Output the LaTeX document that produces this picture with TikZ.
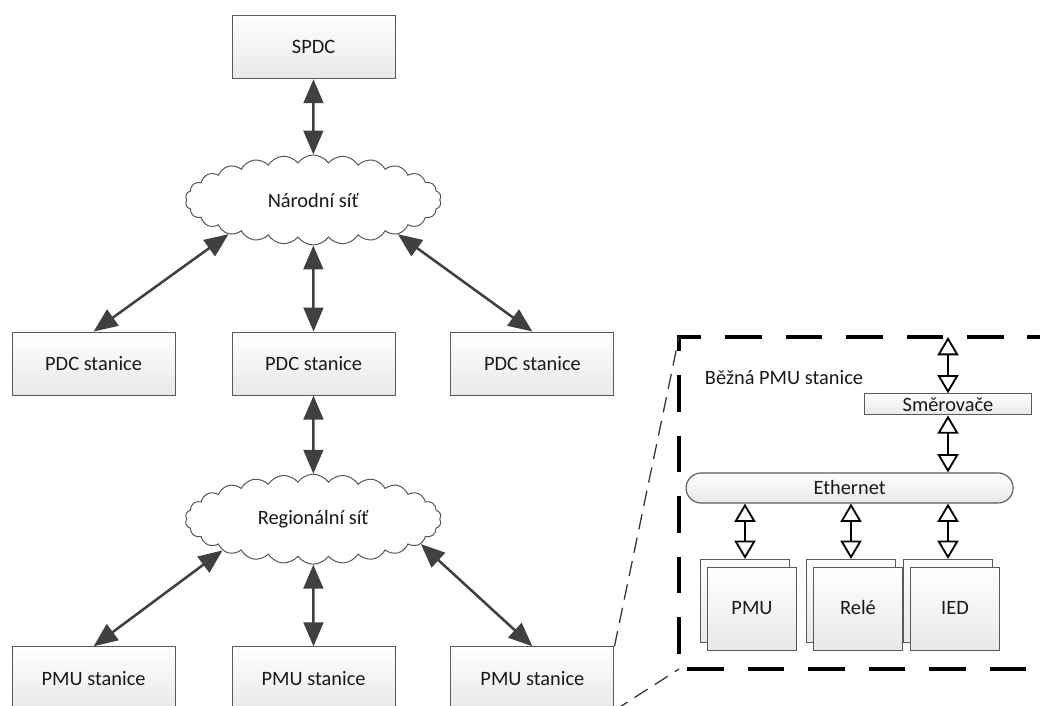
\documentclass[tikz,border=0pt]{standalone}
\usepackage{fontspec}
\setmainfont{Carlito}
\usetikzlibrary{arrows.meta, shapes.symbols, calc}

\tikzset{
    stanice/.style={draw=gray!70!black, line width=0.8pt, top color=white, bottom color=gray!18,
        minimum width=4.075cm, minimum height=1.575cm, text=black!90},
    sit/.style={cloud, cloud puffs=26, cloud puff arc=110, cloud ignores aspect,
        draw=gray!65!black, line width=0.7pt, fill=white,
        minimum width=6.4cm, minimum height=2.25cm, text=black!90},
    zarizeni/.style={draw=gray!70!black, line width=0.8pt, top color=white, bottom color=gray!18,
        minimum width=2.225cm, minimum height=2.075cm, text height=10pt, text depth=2pt, text=black!90},
    spoj/.style={draw=black!75, line width=1.8pt, >={Triangle[length=17pt,width=14pt]}, <->},
    otevrena/.style={draw=black, line width=1.3pt, >={Triangle[open,length=13pt,width=15pt]}, <->},
    priblizeni/.style={draw=black!80, line width=0.9pt, dash pattern=on 11pt off 6pt},
    ramec/.style={draw=black, line width=2.2pt, dash pattern=on 26pt off 17pt}
}

\begin{document}
\begin{tikzpicture}[font=\fontsize{14.5pt}{17pt}\selectfont]
    \clip (0,0) rectangle (26,-17.65);

    % hierarchie PDC
    \node[stanice] (spdc) at (7.84,-1.18) {SPDC};
    \node[sit] (narodni) at (7.83,-5.0) {Národní síť};

    \node[stanice] (pdcl) at (2.34,-9.09) {PDC stanice};
    \node[stanice] (pdcs) at (7.84,-9.09) {PDC stanice};
    \node[stanice] (pdcp) at (13.31,-9.09) {PDC stanice};

    \node[sit] (regionalni) at (7.83,-12.98) {Regionální síť};

    \node[stanice] (pmul) at (2.34,-16.96) {PMU stanice};
    \node[stanice] (pmus) at (7.84,-16.96) {PMU stanice};
    \node[stanice] (pmup) at (13.31,-16.96) {PMU stanice};

    \draw[spoj] (spdc) -- (narodni);
    \draw[spoj] (narodni.202) -- (pdcl.north);
    \draw[spoj] (narodni) -- (pdcs);
    \draw[spoj] (narodni.338) -- (pdcp.north);
    \draw[spoj] (pdcs) -- (regionalni);
    \draw[spoj] (regionalni.199) -- (pmul.north);
    \draw[spoj] (regionalni) -- (pmus);
    \draw[spoj] (regionalni.347) -- (pmup.north);

    % detail jedne PMU stanice
    \coordinate (rohh) at (16.975,-8.425);
    \coordinate (rohd) at (16.975,-16.725);
    \draw[ramec] (26.6,-8.425) -- (rohh) -- (rohd) -- (26.6,-16.725);
    \draw[priblizeni] (pmup.north east) -- (rohh);
    \draw[priblizeni] (pmup.south east) -- (rohd);

    \node[anchor=west, text=black!90] (nazev) at (17.5,-9.45) {Běžná PMU stanice};
    \node[stanice, minimum width=4.175cm, minimum height=0.525cm, inner sep=0pt] (smer) at (23.7,-10.11) {Směrovače};
    \node[stanice, minimum width=8.175cm, minimum height=0.75cm, inner sep=0pt,
        rounded corners=0.375cm] (eth) at (21.24,-12.2) {Ethernet};

    \foreach \jmeno/\x/\id in {PMU/18.625/pmu, Relé/21.275/rele, IED/23.7/ied}{
        \node[zarizeni] (\id-zad) at (\x,-15.025) {};
        \node[zarizeni] (\id) at (\x+0.175,-15.225) {\jmeno};
    }

    \coordinate (vstup) at (smer.north |- rohh);
    \draw[otevrena] (vstup) -- (smer);
    \draw[otevrena] (smer.south) -- (smer.south |- eth.north);
    \foreach \id in {pmu,rele,ied}
        \draw[otevrena] (\id-zad.north |- eth.south) -- (\id-zad.north);
\end{tikzpicture}
\end{document}
